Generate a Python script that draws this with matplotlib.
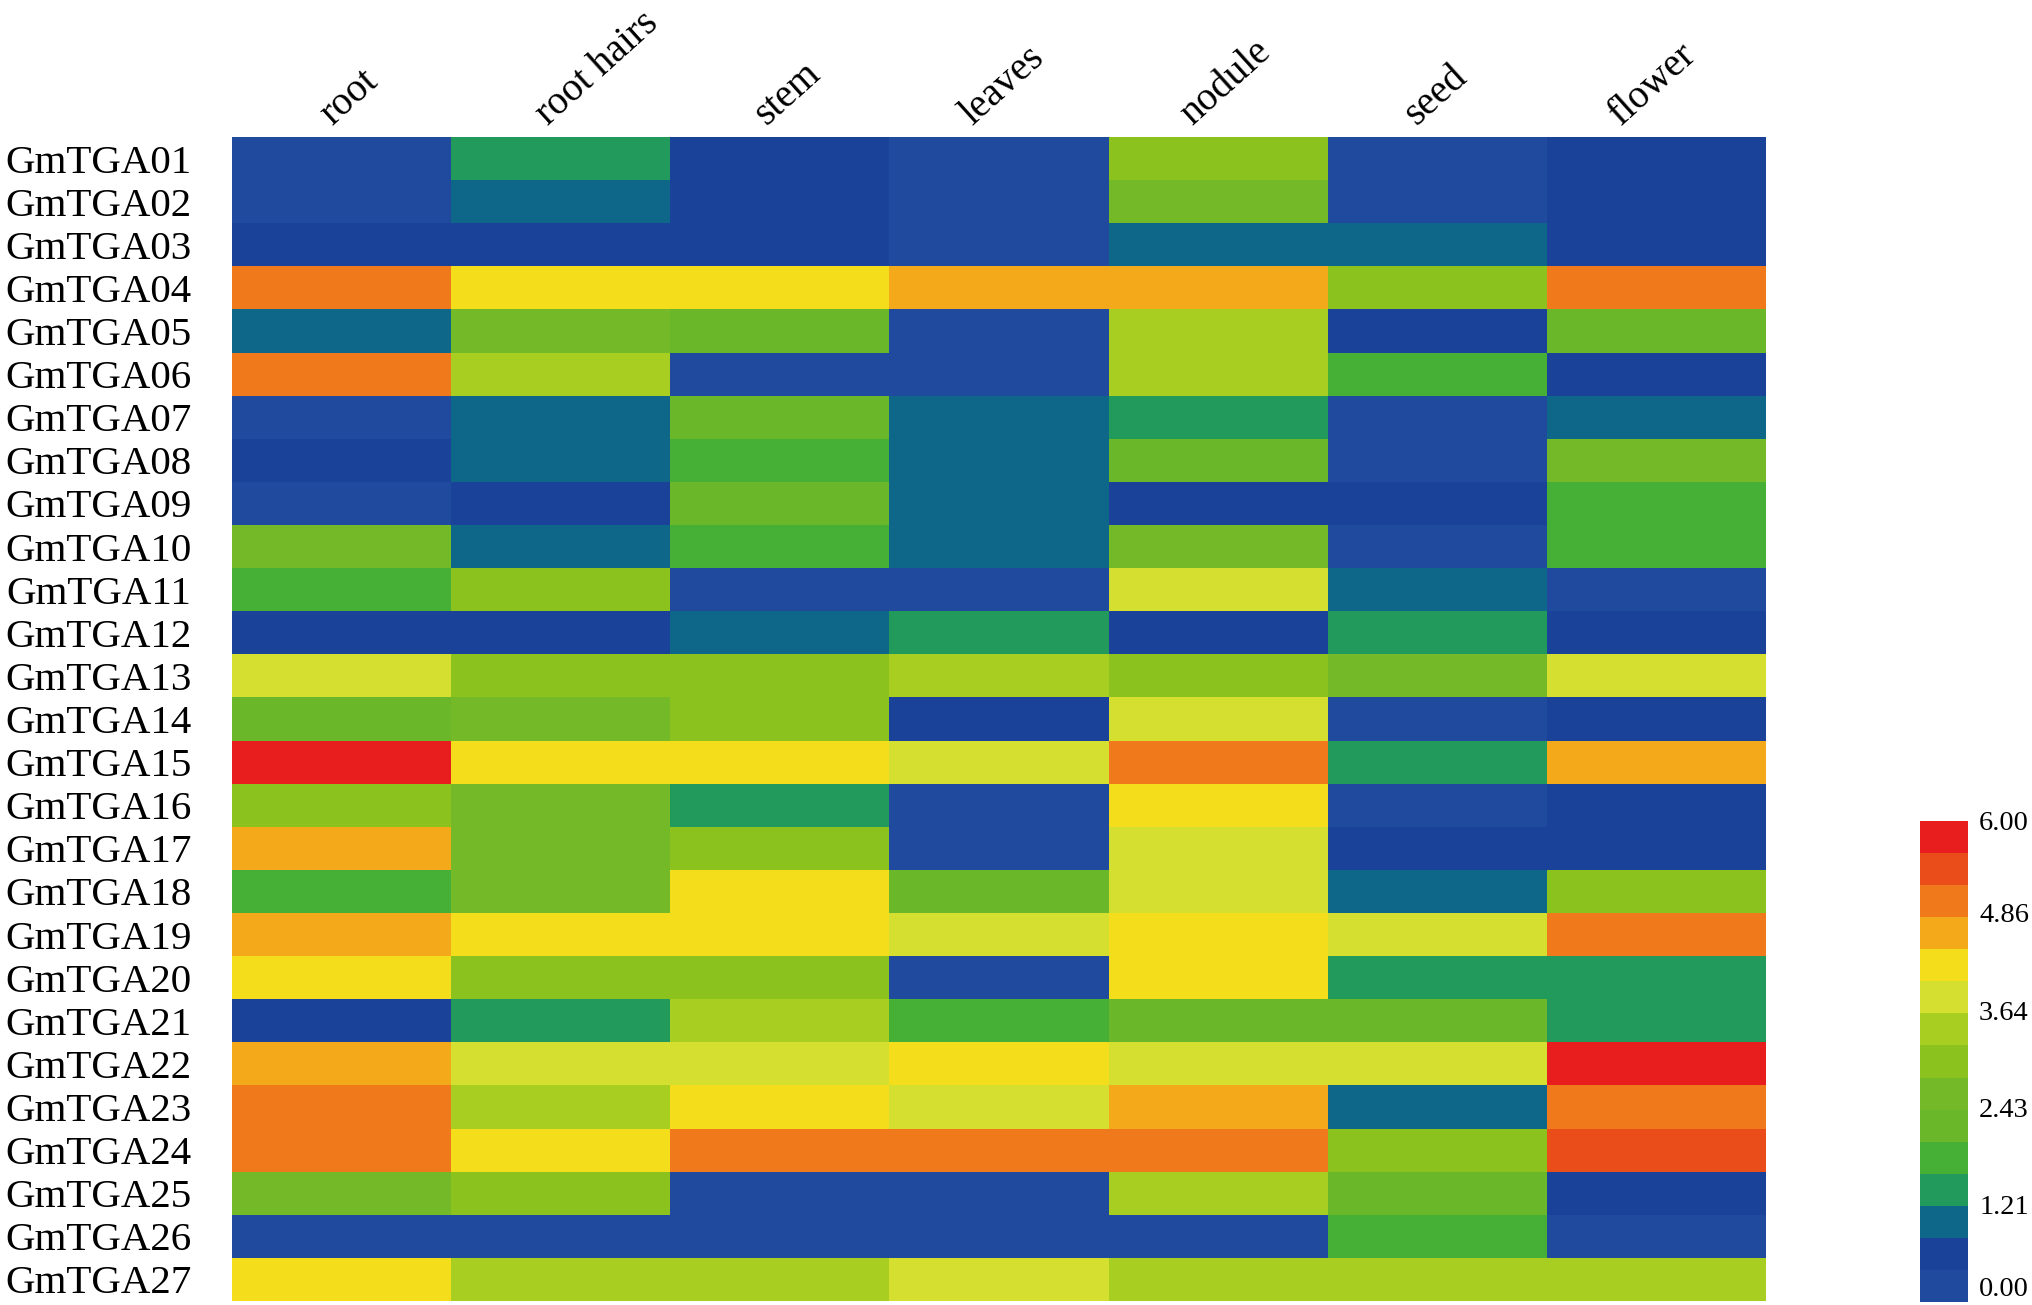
import numpy as np
import matplotlib
matplotlib.use("Agg")
import matplotlib.pyplot as plt
from matplotlib.colors import ListedColormap, BoundaryNorm

plt.rcParams['font.family'] = ['Liberation Serif', 'DejaVu Serif']

genes = ["GmTGA%02d" % i for i in range(1, 28)]
tissues = ["root", "root hairs", "stem", "leaves", "nodule", "seed", "flower"]
cbar_ticks = [0.00, 1.21, 2.43, 3.64, 4.86, 6.00]
cbar_colors = ["#1f4a9e", "#1a4299", "#0e6789", "#219a5c", "#46b036", "#6ab72a", "#74ba28", "#8bc21e",
               "#a9ce22", "#d4df2f", "#f4de1c", "#f4a91b", "#f0791b", "#ea4d1a", "#e81e1e"]

root =       [0.2, 0.2, 0.6, 5.0, 1.0, 5.0, 0.2, 0.6, 0.2, 2.6, 1.8, 0.6, 3.8, 2.2, 5.8, 3.0, 4.6, 1.8, 4.6, 4.2, 0.6, 4.6, 5.0, 5.0, 2.6, 0.2, 4.2]
root_hairs = [1.4, 1.0, 0.6, 4.2, 2.6, 3.4, 1.0, 1.0, 0.6, 1.0, 3.0, 0.6, 3.0, 2.6, 4.2, 2.6, 2.6, 2.6, 4.2, 3.0, 1.4, 3.8, 3.4, 4.2, 3.0, 0.2, 3.4]
stem =       [0.6, 0.6, 0.6, 4.2, 2.2, 0.2, 2.2, 1.8, 2.2, 1.8, 0.2, 1.0, 3.0, 3.0, 4.2, 1.4, 3.0, 4.2, 4.2, 3.0, 3.4, 3.8, 4.2, 5.0, 0.2, 0.2, 3.4]
leaves =     [0.2, 0.2, 0.2, 4.6, 0.2, 0.2, 1.0, 1.0, 1.0, 1.0, 0.2, 1.4, 3.4, 0.6, 3.8, 0.2, 0.2, 2.2, 3.8, 0.2, 1.8, 4.2, 3.8, 5.0, 0.2, 0.2, 3.8]
nodule =     [3.0, 2.6, 1.0, 4.6, 3.4, 3.4, 1.4, 2.2, 0.6, 2.6, 3.8, 0.6, 3.0, 3.8, 5.0, 4.2, 3.8, 3.8, 4.2, 4.2, 2.2, 3.8, 4.6, 5.0, 3.4, 0.2, 3.4]
seed =       [0.2, 0.2, 1.0, 3.0, 0.6, 1.8, 0.2, 0.2, 0.6, 0.2, 1.0, 1.4, 2.6, 0.2, 1.4, 0.2, 0.6, 1.0, 3.8, 1.4, 2.2, 3.8, 1.0, 3.0, 2.2, 1.8, 3.4]
flower =     [0.6, 0.6, 0.6, 5.0, 2.2, 0.6, 1.0, 2.6, 1.8, 1.8, 0.2, 0.6, 3.8, 0.6, 4.6, 0.6, 0.6, 3.0, 5.0, 1.4, 1.4, 5.8, 5.0, 5.4, 0.6, 0.2, 3.4]

W, H = 2032, 1305
fig = plt.figure(figsize=(W / 100, H / 100), dpi=100, facecolor="white")


def box(x0, y0, x1, y1):
    return [x0 / W, 1 - y1 / H, (x1 - x0) / W, (y1 - y0) / H]


values = np.array([root, root_hairs, stem, leaves, nodule, seed, flower]).T
edges = np.linspace(0, 6, len(cbar_colors) + 1)
cmap = ListedColormap(cbar_colors)
norm = BoundaryNorm(edges, cmap.N)

ax = fig.add_axes(box(232, 137, 1766, 1301))
ax.pcolormesh(np.arange(8), np.arange(28), values, cmap=cmap, norm=norm, edgecolors="none", linewidth=0)
ax.set_xlim(0, 7)
ax.set_ylim(27, 0)
for s in ax.spines.values():
    s.set_visible(False)
ax.set_yticks(np.arange(27) + 0.5, genes, fontsize=29.5)
ax.set_xticks([])
ax.tick_params(axis="y", length=0, pad=29)

# fine offsets of the column labels (points), as hand-placed in the original
label_dx = [-7, -9, -10, -19, -19, -15, -26]
for i, t in enumerate(tissues):
    ax.annotate(t, xy=(i + 0.5, 0), xycoords="data", xytext=(label_dx[i], 8), textcoords="offset points",
                rotation=42, rotation_mode="anchor", ha="left", va="baseline", fontsize=28.5)

cax = fig.add_axes(box(1920, 821, 1968, 1302))
sm = plt.cm.ScalarMappable(norm=norm, cmap=cmap)
cb = fig.colorbar(sm, cax=cax, ticks=cbar_ticks, spacing="proportional", drawedges=False)
cb.outline.set_visible(False)
cb.ax.minorticks_off()
cb.ax.tick_params(length=0, pad=8, labelsize=20.5)
cb.ax.set_yticklabels(["%.2f" % v for v in cbar_ticks])
labels = cb.ax.get_yticklabels()
labels[0].set_va("bottom")

fig.savefig("out.png", dpi=100, facecolor="white")
